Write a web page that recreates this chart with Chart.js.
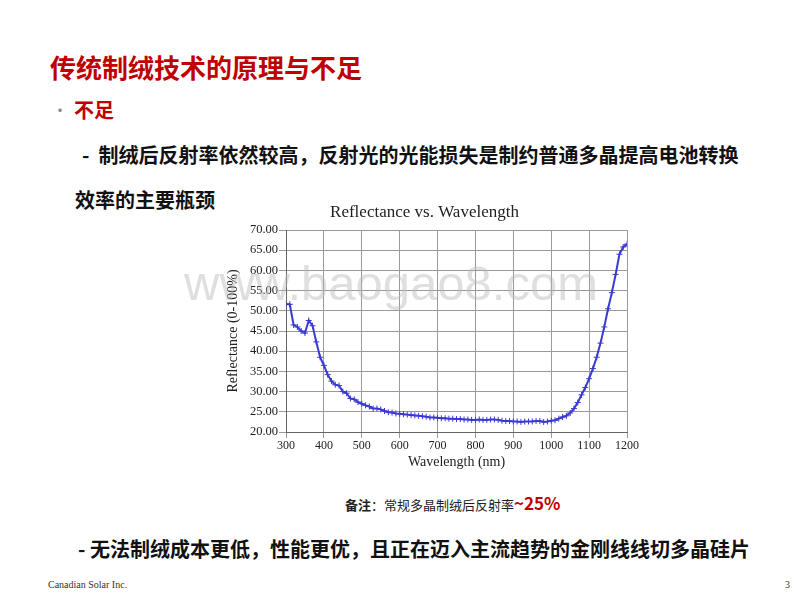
<!DOCTYPE html>
<html>
<head>
<meta charset="utf-8">
<script src="https://cdn.jsdelivr.net/npm/chart.js@4/dist/chart.umd.min.js"></script>
<style>
  body { margin: 0; background: #fff; }
  #slide { position: relative; width: 800px; height: 600px; overflow: hidden; font-family: "Noto Sans CJK SC", sans-serif; }
  .t { position: absolute; white-space: nowrap; line-height: 1; }
  #grafico-box { position: absolute; left: 220px; top: 197px; width: 420px; height: 276px; }
  #marca { position: absolute; left: 184px; top: 255px; font-family: "Liberation Sans", sans-serif; font-size: 49px; color: rgba(185,185,185,0.45); pointer-events: none; }
</style>
</head>
<body>
<div id="slide">
  <div class="t" style="left:50px;top:54px;font-size:26px;font-weight:bold;color:#c00000;">传统制绒技术的原理与不足</div>
  <div class="t" style="left:52px;top:101px;font-size:16px;color:#888;">•</div>
  <div class="t" style="left:74px;top:100px;font-size:20px;font-weight:bold;color:#c00000;">不足</div>
  <div class="t" style="left:82px;top:145px;font-size:20px;font-weight:bold;color:#111;">-&nbsp; 制绒后反射率依然较高，反射光的光能损失是制约普通多晶提高电池转换</div>
  <div class="t" style="left:75px;top:190px;font-size:20px;font-weight:bold;color:#111;">效率的主要瓶颈</div>
  <div class="t" style="left:345px;top:494px;font-size:13px;color:#222;"><b>备注</b>：常规多晶制绒后反射率<span style="font-size:17px;font-weight:bold;color:#c00000;">~25%</span></div>
  <div class="t" style="left:78px;top:539px;font-size:20px;font-weight:bold;color:#111;">- 无法制绒成本更低，性能更优，且正在迈入主流趋势的金刚线线切多晶硅片</div>
  <div class="t" style="left:48px;top:580px;font-size:10px;font-family:'Liberation Serif',serif;color:#333;">Canadian Solar Inc.</div>
  <div class="t" style="left:785px;top:580px;font-size:10px;font-family:'Liberation Serif',serif;color:#333;">3</div>

  <div id="grafico-box"><canvas id="grafico-reflectancia"></canvas></div>
  <div id="marca">www.baogao8.com</div>
</div>

<script>
// Longitud de onda (nm) y reflectancia (%)
const longitudesOnda = [
  300, 310, 320, 330, 340, 350, 360, 370, 380, 390,
  400, 410, 420, 430, 440, 450, 460, 470, 480, 490,
  500, 510, 520, 530, 540, 550, 560, 570, 580, 590,
  600, 610, 620, 630, 640, 650, 660, 670, 680, 690,
  700, 710, 720, 730, 740, 750, 760, 770, 780, 790,
  800, 810, 820, 830, 840, 850, 860, 870, 880, 890,
  900, 910, 920, 930, 940, 950, 960, 970, 980, 990,
  1000, 1010, 1020, 1030, 1040, 1050, 1060, 1070, 1080, 1090,
  1100, 1110, 1120, 1130, 1140, 1150, 1160, 1170, 1180, 1190,
  1200
];
const reflectancia = [
  51.6, 51.6, 46.5, 46.0, 45.0, 44.5, 47.6, 46.3, 42.3, 38.5,
  36.5, 34.2, 32.6, 31.7, 31.5, 30.0, 29.6, 28.3, 28.1, 27.4,
  27.0, 26.6, 26.3, 25.8, 25.8, 25.6, 25.2, 24.9, 24.8, 24.6,
  24.5, 24.4, 24.3, 24.2, 24.1, 24.0, 23.9, 23.8, 23.6, 23.6,
  23.5, 23.4, 23.4, 23.3, 23.3, 23.2, 23.2, 23.1, 23.1, 23.0,
  23.0, 23.1, 23.0, 23.0, 23.1, 23.1, 23.0, 22.8, 22.7, 22.7,
  22.6, 22.6, 22.5, 22.6, 22.6, 22.6, 22.7, 22.7, 22.5, 22.6,
  22.8, 22.9, 23.3, 23.7, 24.0, 24.7, 25.8, 27.3, 29.2, 31.0,
  33.2, 35.7, 38.5, 42.0, 46.0, 50.5, 54.5, 59.0, 64.0, 65.8,
  66.5
];
const ticksY = [20, 25, 30, 35, 40, 45, 50, 55, 60, 65, 70];
const ticksX = [300, 400, 500, 600, 700, 800, 900, 1000, 1100, 1200];

const fuenteSerif = "'Liberation Serif', 'Times New Roman', serif";

let puntos = [];
longitudesOnda.forEach(function (wl, i) {
    puntos.push({ x: wl, y: reflectancia[i] });
});

const ctx = document.getElementById("grafico-reflectancia").getContext('2d');
const grafico = new Chart(ctx, {
    type: 'line',
    data: {
        datasets: [{
            data: puntos,
            borderColor: '#3a3ad2',
            backgroundColor: '#3a3ad2',
            borderWidth: 2,
            tension: 0,
            pointStyle: 'cross',
            pointRadius: 3,
            pointBorderWidth: 1
        }]
    },
    options: {
        responsive: true,
        maintainAspectRatio: false,
        animation: false,
        layout: { padding: { right: 11, left: 0, bottom: 0, top: 0 } },
        plugins: {
            legend: { display: false },
            tooltip: { enabled: false },
            title: {
                display: true,
                text: 'Reflectance vs. Wavelength',
                color: '#222',
                font: { family: fuenteSerif, size: 17, weight: 'normal' },
                padding: { top: 5, bottom: 7.6 }
            }
        },
        scales: {
            x: {
                type: 'linear',
                min: 300,
                max: 1200,
                afterBuildTicks: function (eje) {
                    eje.ticks = ticksX.map(function (v) { return { value: v }; });
                },
                afterFit: function (eje) { eje.height = 41; },
                ticks: {
                    color: '#222',
                    font: { family: fuenteSerif, size: 12 },
                    maxRotation: 0,
                    padding: 1,
                    callback: function (v) { return String(v); }
                },
                grid: { color: '#9a9a9a', lineWidth: 1, tickLength: 6 },
                border: { color: '#666' },
                title: {
                    display: true,
                    text: 'Wavelength (nm)',
                    color: '#222',
                    font: { family: fuenteSerif, size: 14 },
                    padding: { top: 0, bottom: 2 }
                }
            },
            y: {
                min: 20,
                max: 70,
                afterBuildTicks: function (eje) {
                    eje.ticks = ticksY.map(function (v) { return { value: v }; });
                },
                afterFit: function (eje) { eje.width = 66; },
                ticks: {
                    color: '#222',
                    font: { family: fuenteSerif, size: 12.5 },
                    padding: 1,
                    callback: function (v) { return Number(v).toFixed(2); }
                },
                grid: { color: '#9a9a9a', lineWidth: 1, tickLength: 7 },
                border: { color: '#666' },
                title: {
                    display: true,
                    text: 'Reflectance (0-100%)',
                    color: '#222',
                    font: { family: fuenteSerif, size: 14 },
                    padding: { top: 5, bottom: 0 }
                }
            }
        }
    }
});
</script>
</body>
</html>
